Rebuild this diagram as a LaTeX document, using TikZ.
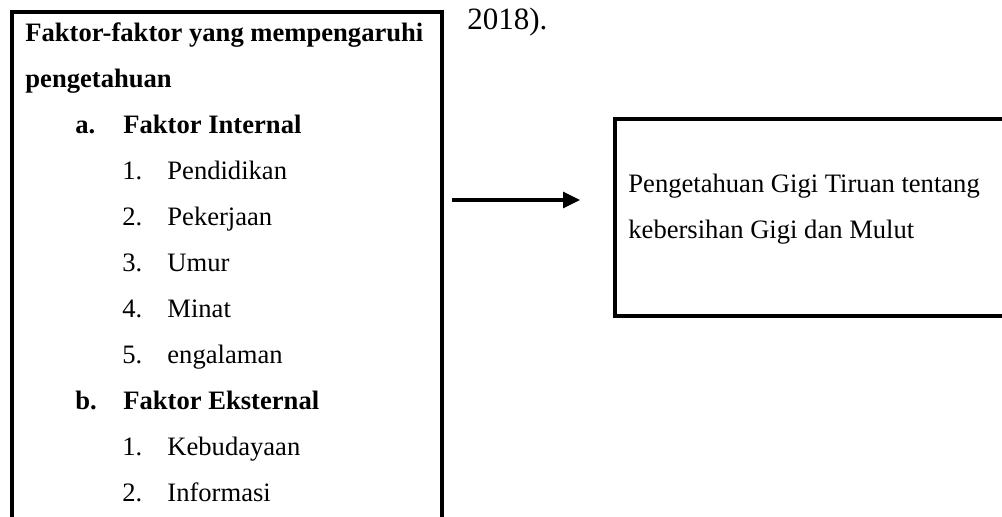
\documentclass[tikz,border=0pt]{standalone}
\usepackage{fontspec}
\setmainfont{Liberation Serif}
\usetikzlibrary{arrows.meta}
\tikzset{
  teks/.style={inner sep=0pt, anchor=base west, font=\fontsize{13.3}{16}\selectfont},
  tebal/.style={teks, font=\fontsize{13.3}{16}\selectfont\bfseries},
  kotak/.style={line width=2.25pt}
}
\begin{document}
\begin{tikzpicture}[x=0.5pt,y=-0.5pt]
            \useasboundingbox (0,0) rectangle (1002,517);
            \draw[kotak] (12,540) -- (12,12) -- (442,12) -- (442,540);
            \draw[kotak] (1020,119) -- (615,119) -- (615,316) -- (1020,316);
            \node[teks, font=\fontsize{15.5}{18}\selectfont] (tahun) at (467,30) {2018).};
            \node[tebal] (judul1) at (25,42) {Faktor-faktor yang mempengaruhi};
            \node[tebal] (judul2) at (25,88) {pengetahuan};
            \node[tebal] (ha) at (75,134) {a.};
            \node[tebal] (internal) at (123,134) {Faktor Internal};
            \node[teks] (a1) at (122,180) {1.};
            \node[teks] (pendidikan) at (167,180) {Pendidikan};
            \node[teks] (a2) at (122,226) {2.};
            \node[teks] (pekerjaan) at (167,226) {Pekerjaan};
            \node[teks] (a3) at (122,272) {3.};
            \node[teks] (umur) at (167,272) {Umur};
            \node[teks] (a4) at (122,318) {4.};
            \node[teks] (minat) at (167,318) {Minat};
            \node[teks] (a5) at (122,364) {5.};
            \node[teks] (pengalaman) at (167,364) {engalaman};
            \node[tebal] (hb) at (75,410) {b.};
            \node[tebal] (eksternal) at (123,410) {Faktor Eksternal};
            \node[teks] (b1) at (122,456) {1.};
            \node[teks] (kebudayaan) at (167,456) {Kebudayaan};
            \node[teks] (b2) at (122,502) {2.};
            \node[teks] (informasi) at (167,502) {Informasi};
            \node[teks] (hasil1) at (628,193) {Pengetahuan Gigi Tiruan tentang};
            \node[teks] (hasil2) at (628,239) {kebersihan Gigi dan Mulut};
            \coordinate (panahA) at (452,200);
            \coordinate (panahB) at (580,200);
            \draw[line width=1.6pt, -{Triangle[length=8.5pt,width=8pt]}] (panahA) -- (panahB);
        \end{tikzpicture}
\end{document}
